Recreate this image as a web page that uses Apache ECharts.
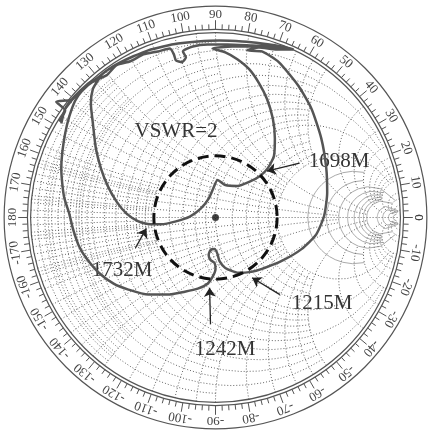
<!DOCTYPE html>
<html>
<head>
<meta charset="utf-8">
<script src="https://cdn.jsdelivr.net/npm/echarts@6/dist/echarts.min.js"></script>
<style>
html, body { margin: 0; padding: 0; background: #fff; }
#container { width: 430px; height: 432px; }
</style>
</head>
<body>
<div id="container"></div>
<script>
// 反射系数 Γ（实部 / 虚部），按扫频顺序从图上读取
var gammaRe = [
  -0.845, -0.813, -0.861, -0.781, -0.738, -0.685, -0.647, -0.578, -0.513, -0.444,
  -0.364, -0.283, -0.203, -0.096, 0.021, 0.144, 0.251, 0.358, 0.422,
  0.332, 0.235, 0.171,
  0.251, 0.342, 0.449, 0.519, 0.572, 0.599, 0.604, 0.588, 0.545, 0.465,
  0.358, 0.251, 0.193, 0.123, 0.053, 0.021, 0.011, -0.005, -0.027, -0.037,
  -0.027, -0.005, 0, -0.016, -0.043, -0.096, -0.166, -0.257, -0.364, -0.471,
  -0.551, -0.631, -0.695, -0.738, -0.770, -0.791, -0.818, -0.829, -0.834, -0.829,
  -0.813, -0.791, -0.759, -0.722,
  -0.658, -0.588, -0.535, -0.460, -0.390, -0.310, -0.246,
  -0.225, -0.214, -0.182, -0.160, -0.176,
  -0.123, -0.043, 0.064, 0.198, 0.305, 0.385,
  0.225, 0.091, -0.016,
  0.053, 0.118, 0.182, 0.235, 0.278, 0.310, 0.321, 0.316, 0.283, 0.241,
  0.182, 0.118, 0.053, 0.011, -0.011, -0.037, -0.080, -0.139, -0.214, -0.294,
  -0.353, -0.417, -0.481, -0.535, -0.583, -0.620, -0.647, -0.663, -0.674, -0.663,
  -0.631,
  -0.695, -0.765, -0.813, -0.834
];
var gammaIm = [
  0.519, 0.578, 0.626, 0.636, 0.679, 0.727, 0.749, 0.802, 0.840, 0.872,
  0.904, 0.925, 0.941, 0.952, 0.957, 0.952, 0.941, 0.925, 0.909,
  0.909, 0.920, 0.904,
  0.898, 0.840, 0.711, 0.588, 0.428, 0.267, 0.134, 0.011, -0.091, -0.171,
  -0.235, -0.278, -0.294, -0.299, -0.273, -0.235, -0.198, -0.171, -0.176, -0.203,
  -0.230, -0.246, -0.278, -0.321, -0.358, -0.385, -0.401, -0.417, -0.417, -0.390,
  -0.358, -0.299, -0.225, -0.155, -0.064, 0.021, 0.107, 0.187, 0.267, 0.348,
  0.455, 0.545, 0.631, 0.685,
  0.738, 0.770, 0.824, 0.845, 0.882, 0.898, 0.914,
  0.882, 0.850, 0.840, 0.866, 0.898,
  0.925, 0.936, 0.936, 0.930, 0.925, 0.914,
  0.925, 0.925, 0.914,
  0.893, 0.856, 0.802, 0.727, 0.642, 0.535, 0.428, 0.332, 0.267, 0.225,
  0.193, 0.171, 0.176, 0.203, 0.160, 0.102, 0.048, 0.005, -0.021, -0.037,
  -0.037, -0.021, 0.021, 0.086, 0.171, 0.267, 0.374, 0.508, 0.615, 0.695,
  0.749,
  0.717, 0.652, 0.588, 0.508
];

var vswr = 2;

// 频点标注：箭头起点 / 终点（Γ 平面）
var markerNames = ['1698M', '1732M', '1215M', '1242M'];
var arrowFrom = [[0.455, 0.294], [-0.433, -0.165], [0.348, -0.417], [-0.027, -0.578]];
var arrowTo = [[0.278, 0.251], [-0.374, -0.059], [0.198, -0.326], [-0.032, -0.380]];

// 外圈角度刻度标签
var angleLabels = [];
for (var a = -170; a <= 180; a += 10) angleLabels.push(a);

// 阻抗圆 / 电抗圆的取值，及各自画到的范围
var gridValues = [
  [0.02, 0.5], [0.04, 0.5], [0.06, 0.5], [0.08, 0.5], [0.12, 0.5], [0.14, 0.5], [0.16, 0.5], [0.18, 0.5],
  [0.05, 1], [0.1, 2], [0.15, 1], [0.2, 5], [0.25, 1], [0.3, 2], [0.35, 1], [0.4, 2], [0.45, 1], [0.5, 5],
  [0.6, 2], [0.7, 2], [0.8, 2], [0.9, 2], [1, 10],
  [1.2, 2], [1.4, 2], [1.6, 2], [1.8, 2], [2, 10],
  [3, 5], [4, 5], [5, 20], [6, 10], [7, 10], [8, 10], [9, 10], [10, 20],
  [15, 50], [20, 50], [30, 50], [50, 50]
];

var curveData = [];
for (var i = 0; i < gammaRe.length; i++) curveData.push([gammaRe[i], gammaIm[i]]);

var arrowData = [];
for (var i = 0; i < arrowFrom.length; i++) arrowData.push({ coords: [arrowFrom[i], arrowTo[i]] });

function gam(r, x) {
  var d = (r + 1) * (r + 1) + x * x;
  return [(r * r - 1 + x * x) / d, 2 * x / d];
}

var dotStyle = { fill: 'none', stroke: '#666', lineWidth: 1, lineDash: [1, 2] };
var solidStyle = { fill: 'none', stroke: '#aaa', lineWidth: 1 };

function renderSmith(params, api) {
  var kids = [];
  var N = 48;
  // 等电阻圆
  gridValues.forEach(function (g) {
    var r = g[0], lim = Math.atan(g[1]), pts = [];
    for (var k = 0; k <= N; k++) {
      var t = -lim + 2 * lim * k / N;
      pts.push(api.coord(gam(r, Math.tan(t))));
    }
    kids.push({ type: 'polyline', shape: { points: pts }, style: r >= 3 ? solidStyle : dotStyle, silent: true });
  });
  // 等电抗圆弧
  gridValues.forEach(function (g) {
    [1, -1].forEach(function (s) {
      var x = g[0] * s, lim = Math.atan(g[1]), pts = [];
      for (var k = 0; k <= N; k++) {
        pts.push(api.coord(gam(Math.tan(lim * k / N), x)));
      }
      kids.push({ type: 'polyline', shape: { points: pts }, style: dotStyle, silent: true });
    });
  });
  // 实轴
  var a1 = api.coord([-1, 0]), a2 = api.coord([0.985, 0]);
  kids.push({ type: 'line', shape: { x1: a1[0], y1: a1[1], x2: a2[0], y2: a2[1] }, style: dotStyle, silent: true });

  var c = api.coord([0, 0]);
  var u = api.size([1, 0])[0];
  [1, 1.017, 1.143].forEach(function (k) {
    kids.push({ type: 'circle', shape: { cx: c[0], cy: c[1], r: u * k },
      style: { fill: 'none', stroke: '#555', lineWidth: 1.2 }, silent: true });
  });
  // 刻度
  for (var d = -178; d <= 180; d += 2) {
    var rad = d * Math.PI / 180;
    var len = d % 10 === 0 ? 0.05 : 0.028;
    var p1 = api.coord([Math.cos(rad) * 1.017, Math.sin(rad) * 1.017]);
    var p2 = api.coord([Math.cos(rad) * (1.017 + len), Math.sin(rad) * (1.017 + len)]);
    kids.push({ type: 'line', shape: { x1: p1[0], y1: p1[1], x2: p2[0], y2: p2[1] },
      style: { stroke: '#555', lineWidth: 1 }, silent: true });
  }
  // 角度标签
  angleLabels.concat([0]).forEach(function (d) {
    var rad = d * Math.PI / 180;
    var p = api.coord([Math.cos(rad) * 1.098, Math.sin(rad) * 1.098]);
    kids.push({ type: 'text', x: p[0], y: p[1], rotation: (d - 90) * Math.PI / 180,
      style: { text: String(d), fill: '#444', font: '13px "Liberation Serif"',
        align: 'center', verticalAlign: 'middle' }, silent: true });
  });
  return { type: 'group', children: kids };
}

function renderVswr(params, api) {
  var c = api.coord([0, 0]);
  var rr = api.size([(vswr - 1) / (vswr + 1), 0])[0];
  return { type: 'circle', shape: { cx: c[0], cy: c[1], r: rr },
    style: { fill: 'none', stroke: '#111', lineWidth: 3, lineDash: [11, 6] } };
}

var dom = document.getElementById('container');
var myChart = echarts.init(dom, null, { renderer: 'canvas' });

var txt = { font: '21px "Liberation Serif"', fill: '#333', align: 'center', verticalAlign: 'middle' };

var option = {
  animation: false,
  backgroundColor: '#fff',
  grid: { left: 1, top: 3, width: 434, height: 434 },
  xAxis: { type: 'value', min: -1.16, max: 1.16, show: false },
  yAxis: { type: 'value', min: -1.16, max: 1.16, show: false },
  graphic: [
    { type: 'text', x: 176, y: 131, style: Object.assign({ text: 'VSWR=2' }, txt) },
    { type: 'text', x: 339, y: 161, style: Object.assign({ text: markerNames[0] }, txt) },
    { type: 'text', x: 122, y: 270, style: Object.assign({ text: markerNames[1] }, txt) },
    { type: 'text', x: 322, y: 303, style: Object.assign({ text: markerNames[2] }, txt) },
    { type: 'text', x: 225, y: 349, style: Object.assign({ text: markerNames[3] }, txt) }
  ],
  series: [
    { type: 'custom', renderItem: renderSmith, data: [[0, 0]], silent: true, clip: false, z: 1 },
    { type: 'custom', renderItem: renderVswr, data: [[0, 0]], silent: true, clip: false, z: 4 },
    {
      type: 'line', data: curveData, showSymbol: false, smooth: 0.2, silent: true, z: 3,
      lineStyle: { color: '#555', width: 2.5 }
    },
    {
      type: 'scatter', data: [[0, 0]], symbolSize: 7, silent: true, z: 5,
      itemStyle: { color: '#111' }
    },
    {
      type: 'lines', coordinateSystem: 'cartesian2d', data: arrowData, silent: true, z: 6,
      symbol: ['none', 'arrow'], symbolSize: 9,
      lineStyle: { color: '#222', width: 1.3, opacity: 1 }
    }
  ]
};

myChart.setOption(option);
window.addEventListener('resize', myChart.resize);
</script>
</body>
</html>
